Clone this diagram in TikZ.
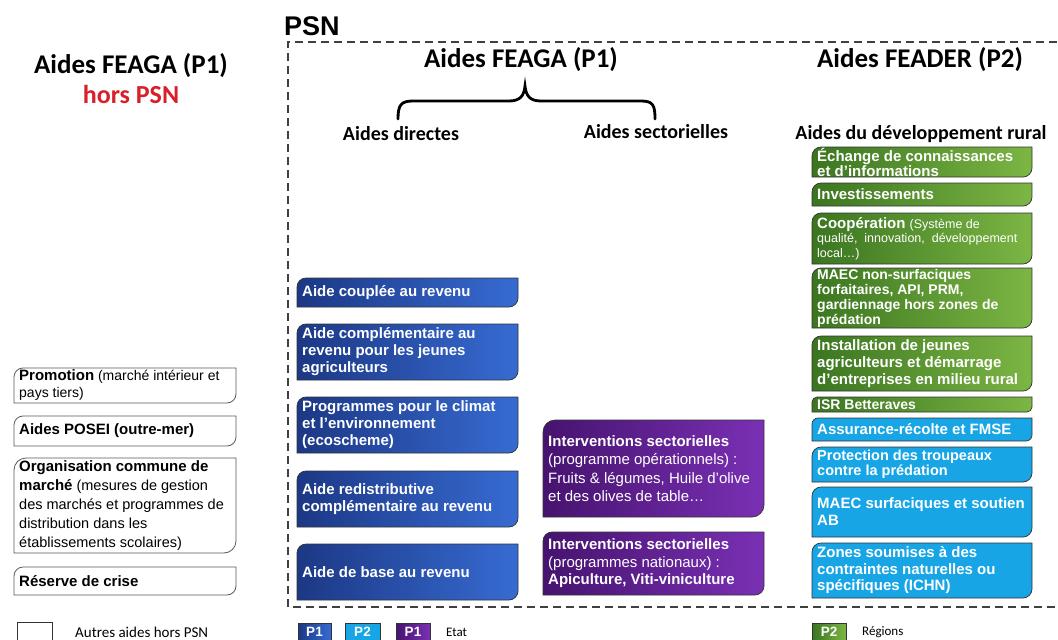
\documentclass[tikz,border=0pt]{standalone}
\usepackage{fontspec}
\setmainfont{Liberation Sans}
\newfontfamily\calfont{Carlito}
\definecolor{bluD}{HTML}{1C3885}
\definecolor{bluL}{HTML}{376BD2}
\definecolor{purD}{HTML}{46136F}
\definecolor{purL}{HTML}{7A30B4}
\definecolor{grnD}{HTML}{3B7520}
\definecolor{grnL}{HTML}{7CB644}
\definecolor{cya}{HTML}{17A5E6}
\definecolor{redT}{HTML}{D8202A}
\def\rr{9}
\newcommand\rbx[8]{%
  \path[#1] ({#2},{#3+\rr}) .. controls ({#2},{#3+0.45*\rr}) and ({#2+0.45*\rr},{#3}) .. ({#2+\rr},{#3})
    -- ({#4},{#3}) -- ({#4},{#5-\rr}) .. controls ({#4},{#5-0.45*\rr}) and ({#4-0.45*\rr},{#5}) .. ({#4-\rr},{#5})
    -- ({#2},{#5}) -- cycle;
  \node[#6] (#7) at ({#2+5},{(#3+#5)/2}) {#8};
}
\tikzset{
  blu/.style={draw=black!80, line width=0.7pt, left color=bluD, right color=bluL},
  pur/.style={draw=black!80, line width=0.7pt, left color=purD, right color=purL},
  grn/.style={draw=black!80, line width=0.7pt, left color=grnD, right color=grnL},
  cyb/.style={draw=black!80, line width=0.7pt, fill=cya},
  wht/.style={draw=black!65, line width=0.8pt, fill=white},
  tw/.style={anchor=west, align=left, inner sep=0pt, text=white, font=\bfseries\fontsize{15}{17}\selectfont},
  tb/.style={tw, text=black},
  ttl/.style={anchor=base, inner sep=0pt, font=\calfont\bfseries\fontsize{27}{30}\selectfont},
  sub/.style={anchor=base, inner sep=0pt, font=\calfont\bfseries\fontsize{20}{23}\selectfont},
  leg/.style={anchor=west, inner sep=0pt, font=\calfont\fontsize{13}{15}\selectfont},
  legtxt/.style={inner sep=0pt, text=white, font=\bfseries\fontsize{13.5}{15}\selectfont},
}
\begin{document}
\begin{tikzpicture}[x=1pt,y=-1pt]
\useasboundingbox (0,0) rectangle (1058,640);
\fill[white] (0,0) rectangle (1058,640);
\clip (0,0) rectangle (1058,640);

% titles
\node[ttl] (lt) at (131,73) {Aides FEAGA (P1)};
\node[ttl, text=redT, font=\calfont\bfseries\fontsize{26}{30}\selectfont] (hp) at (131,103) {hors PSN};
\node[anchor=base west, inner sep=0pt, font=\bfseries\fontsize{27}{30}\selectfont] (psn) at (284,35) {PSN};
\draw[line width=1.6pt, black!75, dash pattern=on 8pt off 5pt] (1070,42) -- (288,42) -- (288,607) -- (1070,607);

\node[ttl] (feaga) at (521,67) {Aides FEAGA (P1)};
\node[ttl] (feader) at (920,67) {Aides FEADER (P2)};
\draw[line width=2.8pt, line cap=round] (398,119) .. controls (398,105) and (401,101) .. (413,101)
  -- (509,101) .. controls (520,101) and (524,96) .. (525,86)
  .. controls (526,96) and (530,101) .. (541,101) -- (641,101)
  .. controls (653,101) and (655,105) .. (655,119);
\node[sub] (sd) at (401,140) {Aides directes};
\node[sub] (ss) at (656,138) {Aides sectorielles};
\node[sub] (sr) at (921,139) {Aides du développement rural};

% blue boxes
\rbx{blu}{297}{278}{518}{307}{tw}{b1}{Aide couplée au revenu}
\rbx{blu}{297}{324}{518}{380}{tw}{b2}{Aide complémentaire au\\revenu pour les jeunes\\agriculteurs}
\rbx{blu}{297}{397}{518}{453}{tw}{b3}{Programmes pour le climat\\et l’environnement\\(ecoscheme)}
\rbx{blu}{297}{471}{518}{527}{tw}{b4}{Aide redistributive\\complémentaire au revenu}
\rbx{blu}{297}{544}{518}{600}{tw}{b5}{Aide de base au revenu}

% purple boxes
{\def\rr{12}
\rbx{pur}{543}{420}{764}{517}{tw, font=\bfseries\fontsize{15}{18.5}\selectfont}{p1}{Interventions sectorielles\\{\mdseries (programme opérationnels) :}\\{\mdseries Fruits \& légumes, Huile d’olive}\\{\mdseries et des olives de table…}}}
\rbx{pur}{543}{532}{764}{595}{tw, font=\bfseries\fontsize{15}{17.5}\selectfont}{p2}{Interventions sectorielles\\{\mdseries (programmes nationaux) :}\\Apiculture, Viti-viniculture}

% green boxes
\rbx{grn}{812}{147}{1032}{177}{tw, font=\bfseries\fontsize{15}{14}\selectfont}{g1}{Échange de connaissances\\et d’informations}
\rbx{grn}{812}{183}{1032}{206}{tw}{g2}{Investissements}
\rbx{grn}{812}{213}{1032}{264}{tw, font=\bfseries\fontsize{15}{14.5}\selectfont}{g3}{Coopération {\mdseries\fontsize{12.5}{14.5}\selectfont (Système de}\\{\mdseries\fontsize{12.5}{14.5}\selectfont qualité,\ \ innovation,\ \ développement}\\{\mdseries\fontsize{12.5}{14.5}\selectfont local…)}}
\rbx{grn}{812}{268}{1032}{328}{tw, font=\bfseries\fontsize{14}{15}\selectfont}{g4}{MAEC non-surfaciques\\forfaitaires, API, PRM,\\gardiennage hors zones de\\prédation}
\rbx{grn}{812}{336}{1032}{391}{tw}{g5}{Installation de jeunes\\agriculteurs et démarrage\\d’entreprises en milieu rural}
{\def\rr{5}
\rbx{grn}{812}{397}{1032}{412}{tw, font=\bfseries\fontsize{14}{15}\selectfont}{g6}{ISR Betteraves}}
% cyan boxes
{\def\rr{6}
\rbx{cyb}{812}{418}{1032}{441}{tw}{c1}{Assurance-récolte et FMSE}}
\rbx{cyb}{812}{447}{1032}{482}{tw, font=\bfseries\fontsize{14.5}{15}\selectfont}{c2}{Protection des troupeaux\\contre la prédation}
\rbx{cyb}{812}{487}{1032}{537}{tw}{c3}{MAEC surfaciques et soutien\\AB}
\rbx{cyb}{812}{543}{1032}{598}{tw, font=\bfseries\fontsize{15}{16.5}\selectfont}{c4}{Zones soumises à des\\contraintes naturelles ou\\spécifiques (ICHN)}

% left white boxes
\rbx{wht}{14}{368}{236}{403}{tb, font=\mdseries\fontsize{14}{17}\selectfont}{w1}{{\bfseries\fontsize{15}{17}\selectfont Promotion} (marché intérieur et\\pays tiers)}
\rbx{wht}{14}{416}{236}{446}{tb}{w2}{Aides POSEI (outre-mer)}
{\def\rr{12}
\rbx{wht}{14}{458}{236}{553}{tb, font=\mdseries\fontsize{14.5}{19}\selectfont}{w3}{{\bfseries\fontsize{15}{19}\selectfont Organisation commune de}\\{\bfseries\fontsize{15}{19}\selectfont marché} (mesures de gestion\\des marchés et programmes de\\distribution dans les\\établissements scolaires)}}
\rbx{wht}{14}{567}{236}{595}{tb}{w4}{Réserve de crise}

% legend
\draw[black!80, line width=0.8pt, fill=white] (17,622) rectangle (52,650);
\node[leg, font=\calfont\fontsize{15}{17}\selectfont] (l0) at (75,632) {Autres aides hors PSN};
\path[blu] (298,623) rectangle (331,646);
\node[legtxt] (l1) at (314.5,632) {P1};
\path[cyb] (345,623) rectangle (380,646);
\node[legtxt] (l2) at (362.5,632) {P2};
\path[pur] (396,623) rectangle (430,646);
\node[legtxt] (l3) at (413,632) {P1};
\node[leg] (etat) at (446,632) {Etat};
\path[grn] (812,623) rectangle (846,646);
\node[legtxt] (l4) at (829,632) {P2};
\node[leg] (reg) at (862,632) {Régions};
\end{tikzpicture}
\end{document}
